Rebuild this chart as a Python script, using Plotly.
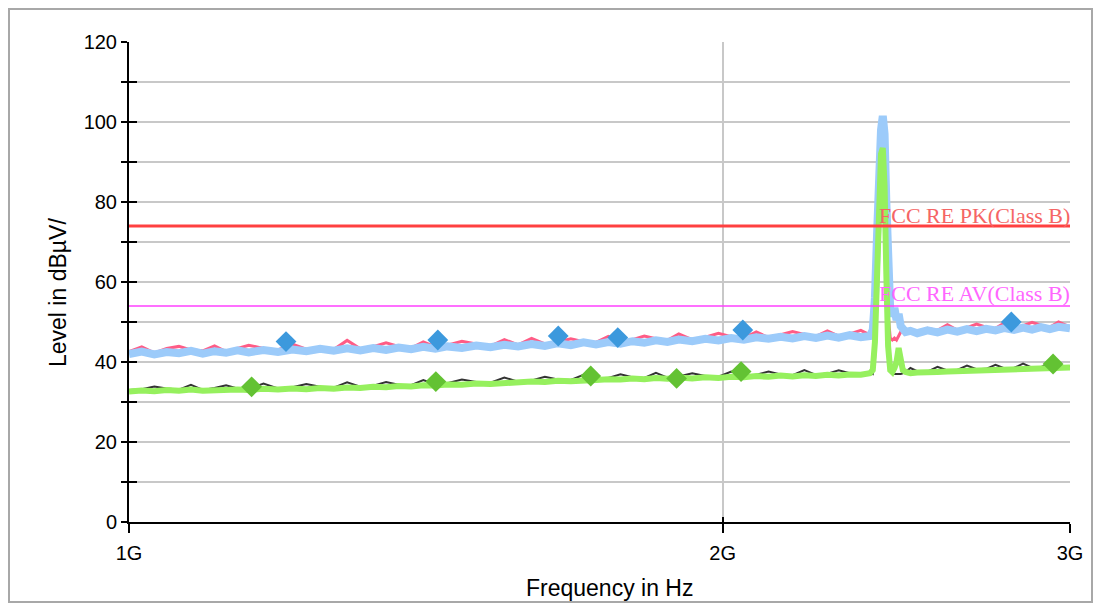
import math
import plotly.graph_objects as go

# ---------------- data ----------------
freq_ghz = [
    1.000, 1.015, 1.030, 1.045, 1.060, 1.075, 1.090, 1.105, 1.120, 1.135,
    1.150, 1.170, 1.190, 1.210, 1.230, 1.250, 1.270, 1.290, 1.310, 1.330,
    1.350, 1.370, 1.390, 1.410, 1.430, 1.450, 1.475, 1.500, 1.525, 1.550,
    1.575, 1.600, 1.625, 1.650, 1.675, 1.700, 1.725, 1.750, 1.775, 1.800,
    1.825, 1.850, 1.875, 1.900, 1.930, 1.960, 1.990, 2.020, 2.050, 2.080,
    2.110, 2.140, 2.170, 2.200, 2.230, 2.260, 2.290, 2.320, 2.350, 2.375,
    2.383, 2.389, 2.395, 2.401, 2.406, 2.411, 2.416, 2.421, 2.426, 2.432,
    2.438, 2.444, 2.450, 2.456, 2.462, 2.468, 2.476, 2.490, 2.510, 2.540,
    2.570, 2.600, 2.630, 2.660, 2.690, 2.720, 2.750, 2.780, 2.810, 2.840,
    2.870, 2.900, 2.930, 2.960, 3.000,
]

peak_h = [  # light blue
    42.0, 42.6, 41.9, 42.5, 42.2, 42.8, 42.1, 42.7, 42.3, 42.9,
    42.4, 43.0, 42.5, 43.1, 42.7, 43.3, 42.8, 43.4, 42.9, 43.5,
    43.0, 43.6, 43.2, 43.8, 43.3, 43.9, 43.5, 44.1, 43.7, 44.3,
    43.9, 44.5, 44.0, 44.7, 44.2, 44.9, 44.4, 45.0, 44.6, 45.2,
    44.8, 45.4, 45.0, 45.6, 45.2, 45.8, 45.4, 46.0, 45.6, 46.2,
    45.8, 46.3, 45.9, 46.5, 46.0, 46.6, 46.1, 46.7, 46.2, 46.5,
    48.0, 56.0, 72.0, 90.0, 98.0, 101.5, 97.0, 80.0, 63.0, 53.0,
    51.5, 53.5, 50.5, 52.0, 49.0, 48.5, 47.5, 47.8, 47.2, 47.9,
    47.4, 48.1, 47.6, 48.2, 47.7, 48.3, 47.9, 48.5, 48.0, 48.6,
    48.1, 48.7, 48.2, 48.8, 48.4,
]

peak_v = [  # pink
    42.6, 43.8, 42.3, 43.4, 43.9, 43.0, 42.8, 44.0, 42.6, 43.5,
    44.2, 43.4, 43.0, 44.5, 43.2, 43.6, 43.1, 45.4, 43.3, 43.8,
    44.8, 43.9, 43.5, 45.0, 43.8, 44.2, 45.2, 44.5, 44.0, 45.6,
    44.3, 45.9, 44.5, 45.0, 45.8, 45.1, 44.9, 46.4, 45.0, 45.6,
    46.5, 45.8, 45.4, 47.0, 45.6, 46.2, 47.2, 46.3, 46.0, 47.5,
    46.1, 46.8, 47.6, 46.9, 46.4, 47.8, 46.5, 47.0, 47.9, 46.8,
    47.0, 54.0, 68.0, 85.0, 89.0, 88.0, 82.0, 68.0, 52.0, 46.0,
    45.5, 46.0, 45.5, 46.5, 47.5, 48.0, 47.8, 48.2, 47.6, 48.4,
    47.9, 49.3, 48.0, 48.6, 49.5, 48.7, 48.4, 49.8, 48.5, 49.1,
    49.9, 49.2, 48.7, 50.0, 48.8,
]

avg_h = [  # light green
    32.6, 32.9, 32.7, 33.0, 32.8, 33.1, 32.8, 33.0, 32.9, 33.1,
    33.0, 33.3, 33.1, 33.4, 33.2, 33.5, 33.3, 33.6, 33.5, 33.8,
    33.7, 34.0, 33.9, 34.2, 34.1, 34.4, 34.3, 34.6, 34.5, 34.8,
    34.8, 35.1, 35.0, 35.3, 35.2, 35.5, 35.5, 35.7, 35.6, 35.9,
    35.7, 36.0, 35.8, 36.1, 35.9, 36.2, 36.0, 36.3, 36.2, 36.5,
    36.3, 36.6, 36.4, 36.7, 36.5, 36.8, 36.6, 36.9, 36.8, 37.2,
    38.0, 45.0, 62.0, 85.0, 92.0, 93.5, 84.0, 62.0, 44.0, 38.0,
    37.5, 38.5, 40.0, 43.5, 41.0, 38.0, 37.5, 37.2, 37.4, 37.3,
    37.5, 37.6, 37.7, 37.8, 37.9, 38.0, 38.0, 38.1, 38.2, 38.3,
    38.3, 38.4, 38.5, 38.5, 38.6,
]

avg_v = [  # dark grey / black
    33.0, 33.2, 33.9, 33.4, 33.1, 34.3, 33.0, 33.5, 34.2, 33.4,
    33.3, 34.6, 33.4, 33.7, 34.5, 33.8, 33.6, 34.9, 33.8, 34.1,
    35.0, 34.3, 34.2, 35.5, 34.4, 34.7, 35.6, 35.0, 34.8, 36.1,
    35.1, 35.4, 36.3, 35.6, 35.5, 36.8, 35.8, 36.0, 36.9, 36.2,
    36.0, 37.3, 36.1, 36.4, 37.2, 36.5, 36.3, 37.6, 36.5, 36.8,
    37.6, 36.9, 36.7, 38.0, 36.8, 37.1, 37.9, 37.2, 37.1, 37.3,
    37.0, 40.0, 55.0, 72.0, 80.0, 84.0, 80.0, 68.0, 52.0, 40.0,
    37.0, 37.0, 37.0, 37.0, 37.0, 37.2, 37.5, 38.5, 37.7, 37.6,
    38.8, 37.9, 38.0, 39.1, 38.2, 38.3, 39.3, 38.4, 38.5, 39.6,
    38.6, 38.7, 39.8, 38.8, 38.9,
]

pk_marker_ghz = [1.2012, 1.4341, 1.6506, 1.7694, 2.0475, 2.8013]
pk_marker_val = [45.1, 45.5, 46.5, 46.1, 48.0, 50.0]
av_marker_ghz = [1.1539, 1.4308, 1.7144, 1.8952, 2.0434, 2.9413]
av_marker_val = [33.8, 35.1, 36.5, 35.9, 37.6, 39.5]

limit_pk = 74
limit_av = 54
limit_pk_label = "FCC RE PK(Class B)"
limit_av_label = "FCC RE AV(Class B)"

x_tick_vals_ghz = [1, 2, 3]
x_tick_text = ["1G", "2G", "3G"]
y_tick_vals = list(range(0, 121, 10))
y_tick_text = [str(v) if v % 20 == 0 else "" for v in y_tick_vals]

x_title = "Frequency in Hz"
y_title = "Level in dBµV/"

# ---------------- figure ----------------
GHZ = 1e9
fx = [f * GHZ for f in freq_ghz]
xr = [math.log10(1 * GHZ), math.log10(3 * GHZ)]

# page has an 8px body margin; plot area 941x480
W, H = 1096, 597
ML, MT, PW, PH = 121, 34, 941, 480

fig = go.Figure()

fig.add_trace(go.Scatter(x=fx, y=peak_v, mode="lines",
                         line=dict(color="#FF5C86", width=3)))
fig.add_trace(go.Scatter(x=fx, y=peak_h, mode="lines",
                         line=dict(color="#9CCBFA", width=8)))
fig.add_trace(go.Scatter(x=fx, y=avg_v, mode="lines",
                         line=dict(color="#333333", width=2)))
fig.add_trace(go.Scatter(x=fx, y=avg_h, mode="lines",
                         line=dict(color="#96F05E", width=6)))

fig.add_trace(go.Scatter(x=[fx[0], fx[-1]], y=[limit_pk, limit_pk], mode="lines",
                         line=dict(color="#FF4040", width=3)))
fig.add_trace(go.Scatter(x=[fx[0], fx[-1]], y=[limit_av, limit_av], mode="lines",
                         line=dict(color="#FF40FF", width=1.5),
                         xaxis="x2", yaxis="y2"))

fig.add_trace(go.Scatter(x=[f * GHZ for f in pk_marker_ghz], y=pk_marker_val,
                         mode="markers",
                         marker=dict(symbol="diamond", size=16, color="#3C99DD")))
fig.add_trace(go.Scatter(x=[f * GHZ for f in av_marker_ghz], y=av_marker_val,
                         mode="markers",
                         marker=dict(symbol="diamond", size=16, color="#63C233")))

tick_font = dict(family="Liberation Sans, Arial", size=20, color="#000000")

fig.update_layout(
    width=W, height=H,
    margin=dict(l=ML, r=W - ML - PW, t=MT, b=H - MT - PH),
    paper_bgcolor="white", plot_bgcolor="white",
    showlegend=False, hovermode=False,
    xaxis=dict(type="log", range=xr, tickvals=[v * GHZ for v in x_tick_vals_ghz],
               ticktext=x_tick_text, showgrid=True, gridcolor="#C8C8C8", gridwidth=1.5,
               showline=True, linecolor="#000000", linewidth=2,
               ticks="outside", ticklen=9, tickwidth=2, tickcolor="#000000",
               tickfont=tick_font, ticklabelstandoff=3, zeroline=False),
    xaxis2=dict(type="log", range=xr, overlaying="x", tickvals=[v * GHZ for v in x_tick_vals_ghz],
                showticklabels=False, showgrid=False, showline=False,
                ticks="inside", ticklen=5, tickwidth=2, tickcolor="#000000", zeroline=False),
    yaxis=dict(range=[0, 120], tickvals=y_tick_vals, ticktext=y_tick_text,
               showgrid=True, gridcolor="#C8C8C8", gridwidth=1.5,
               showline=True, linecolor="#000000", linewidth=2,
               ticks="outside", ticklen=6, tickwidth=2, tickcolor="#000000",
               tickfont=tick_font, zeroline=False),
    yaxis2=dict(range=[0, 120], overlaying="y", tickvals=y_tick_vals,
                showticklabels=False, showgrid=False, showline=False,
                ticks="inside", ticklen=8, tickwidth=2, tickcolor="#000000", zeroline=False),
)

fig.add_annotation(x=xr[1], y=limit_pk, xref="x", yref="y", text=limit_pk_label,
                   showarrow=False, xanchor="right", yanchor="bottom", yshift=-4, xshift=2,
                   font=dict(family="Liberation Serif", size=22, color="#F56565"))
fig.add_annotation(x=xr[1], y=limit_av, xref="x", yref="y", text=limit_av_label,
                   showarrow=False, xanchor="right", yanchor="bottom", yshift=-2, xshift=2,
                   font=dict(family="Liberation Serif", size=22, color="#FF66FF"))

# positions in reference page pixels -> paper coords (page offset 8px)
def px(xp):
    return (xp - 8 - ML) / PW

def py(yp):
    return (MT + PH - (yp - 8)) / PH

fig.add_annotation(x=px(609), y=py(588), xref="paper", yref="paper",
                   text=x_title, showarrow=False, xanchor="center", yanchor="middle",
                   font=dict(family="Liberation Sans, Arial", size=23, color="#000000"))
fig.add_annotation(x=px(58), y=py(293), xref="paper", yref="paper",
                   text=y_title, showarrow=False, xanchor="center", yanchor="middle",
                   textangle=-90,
                   font=dict(family="Liberation Sans, Arial", size=23, color="#000000"))

fig.add_shape(type="rect", xref="paper", yref="paper",
              x0=(1 - ML) / PW, x1=(1092 - 8 - ML) / PW,
              y0=(MT + PH - (602 - 8)) / PH, y1=(MT + PH - 1) / PH,
              line=dict(color="#A8A8A8", width=2), fillcolor="rgba(0,0,0,0)", layer="below")

fig.write_html("out.html")
